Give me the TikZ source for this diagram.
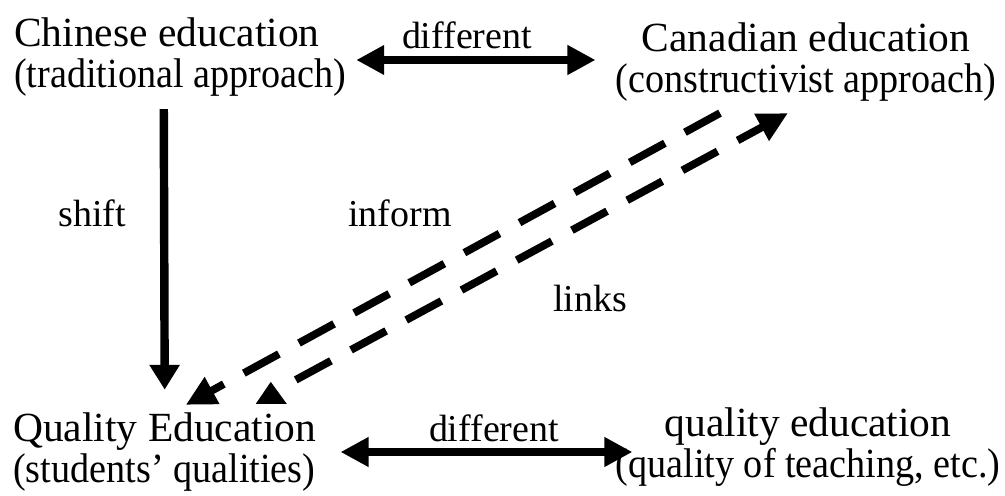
\documentclass[tikz,border=0pt]{standalone}
\usepackage{fontspec}
\setmainfont{Liberation Serif}
\newfontfamily\narrowserif[FakeStretch=0.92, Ligatures=TeX]{Liberation Serif}
\usetikzlibrary{arrows.meta}
\tikzset{
	box/.style = {inner sep=0pt, font=\fontsize{29.5}{28.5}\selectfont},
	lbl/.style = {inner sep=0pt, font=\fontsize{27}{32}\selectfont, anchor=base},
	fat/.style = {line width=5.5pt, {Triangle[length=0.7cm,width=0.7cm]}-{Triangle[length=0.7cm,width=0.7cm]}},
	down/.style = {line width=6pt, -{Triangle[length=0.62cm,width=0.72cm]}},
	dashlink/.style = {line width=5.5pt, dash pattern=on 1cm off 0.57cm, -{Triangle[length=0.75cm,width=0.72cm]}}
}
\begin{document}
\begin{tikzpicture}[x=0.025cm, y=-0.025cm]
	\useasboundingbox (0,0) rectangle (1005,495);
	% the four blocks (base = last line)
	\node[box, anchor=base west, align=left] (chinese) at (14,87) {Chinese education\\{\narrowserif(traditional approach)}};
	\node[box, anchor=base, align=center] (canadian) at (806,92) {Canadian education\\{\narrowserif(constructivist approach)}};
	\node[box, anchor=base west, align=left] (qualityEd) at (13,482) {Quality Education\\{\narrowserif(students’ qualities)}};
	\node[box, anchor=base, align=center] (qualityTe) at (808,477) {quality education\\{\narrowserif(quality of teaching, etc.)}};
	% labels
	\node[lbl] (shift) at (92,226) {shift};
	\node[lbl] (inform) at (400,226) {inform};
	\node[lbl] (links) at (590,311) {links};
	\node[lbl] (diffTop) at (467,48) {different};
	\node[lbl] (diffBot) at (494,441) {different};
	% arrows
	\draw[fat] ([shift={(10,3)}]chinese.east) -- ([shift={(-20,3)}]chinese.east -| canadian.west);
	\draw[fat] ([shift={(24,0)}]qualityEd.east) -- ([shift={(17,0)}]qualityEd.east -| qualityTe.west);
	\draw[down, shorten >=0.58cm] ([shift={(-1,13)}]chinese.south -| qualityEd.north) -- ([xshift=0cm]qualityEd.north);
	% dashed links
	\draw[dashlink] ([shift={(-86,12)}]canadian.south) -- ([shift={(21,-8)}]qualityEd.north);
	\draw[dashlink] ([shift={(131,-33)}]qualityEd.north) -- ([shift={(-18,12)}]canadian.south);
	\fill ([shift={(106,-31)}]qualityEd.north) -- ++(-15,22) -- ++(31,0) -- cycle;
\end{tikzpicture}
\end{document}
